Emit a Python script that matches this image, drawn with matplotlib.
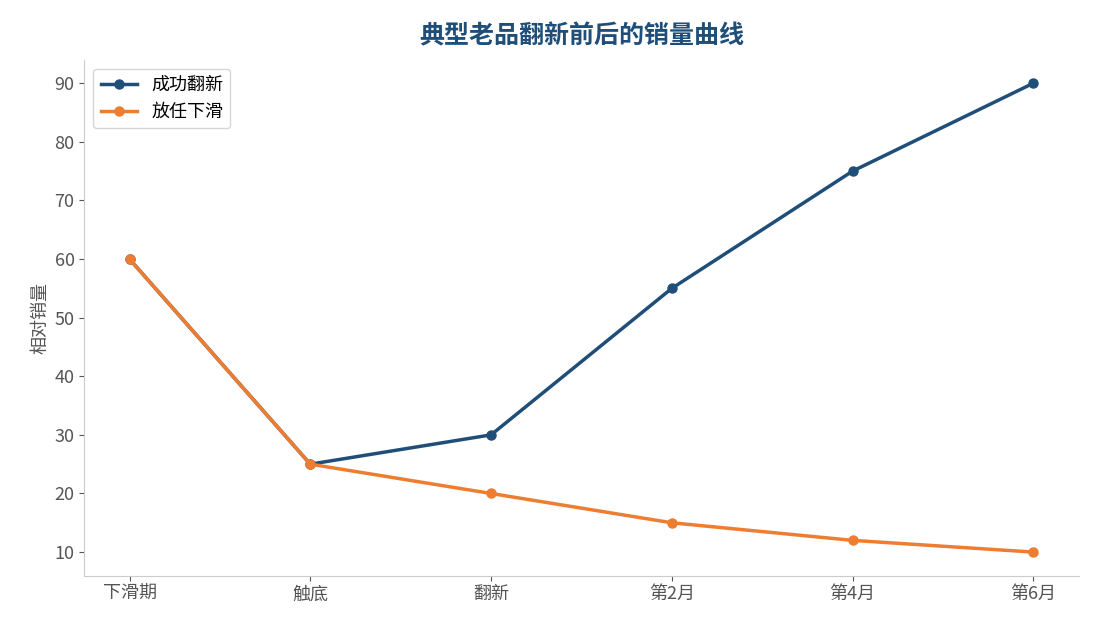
import matplotlib
matplotlib.use('Agg')
import matplotlib.pyplot as plt

plt.rcParams['font.family'] = ['Noto Sans CJK SC', 'DejaVu Sans']

categories = ['下滑期', '触底', '翻新', '第2月', '第4月', '第6月']
success = [60, 25, 30, 55, 75, 90]
decline = [60, 25, 20, 15, 12, 10]

fig, ax = plt.subplots(figsize=(10.95, 6.29), dpi=100)
x = range(len(categories))
ax.plot(x, success, color='#1f4e79', lw=2.5, marker='o', ms=6.5, label='成功翻新')
ax.plot(x, decline, color='#ed7d31', lw=2.5, marker='o', ms=6.5, label='放任下滑')
ax.set_xticks(list(x))
ax.set_xticklabels(categories)
ax.set_ylabel('相对销量', color='#555555', fontsize=13)
ax.set_title('典型老品翻新前后的销量曲线', color='#1f4e79', fontsize=18, fontweight='bold', pad=12)
ax.set_yticks(range(10, 91, 10))
ax.set_ylim(6, 94)
ax.set_xlim(-0.25, 5.25)
for s in ['top', 'right']:
    ax.spines[s].set_visible(False)
for s in ['left', 'bottom']:
    ax.spines[s].set_color('#cccccc')
ax.tick_params(colors='#555555', labelsize=13)
ax.legend(loc='upper left', fontsize=13)
fig.subplots_adjust(left=0.077, right=0.985, top=0.905, bottom=0.085)
fig.savefig('out.png')
